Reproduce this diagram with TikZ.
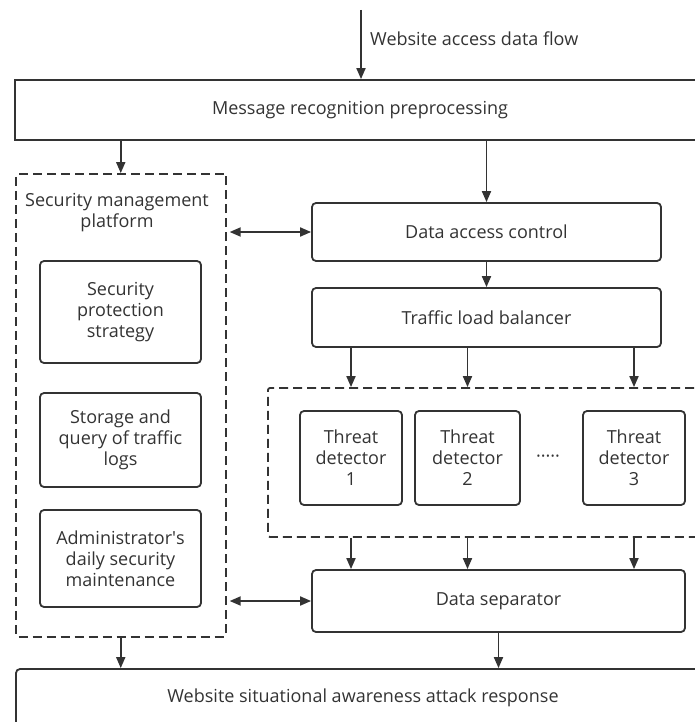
\documentclass[tikz,border=0pt]{standalone}
\usepackage{fontspec}
\setmainfont{Open Sans}
\usepackage{xcolor}
\usepackage{tikz}
\usetikzlibrary{shapes,arrows,positioning,calc,arrows.meta}
\definecolor{ink}{HTML}{333333}

\begin{document}
\begin{tikzpicture}[x=1pt, y=-1pt,
    every node/.style={text=ink, font=\fontsize{18}{21}\selectfont, align=center, inner sep=0pt},
    block/.style={draw=ink, line width=1.8pt, rounded corners=4pt},
    flat/.style={draw=ink, line width=1.8pt},
    group/.style={draw=ink, line width=1.8pt, dash pattern=on 9pt off 5pt, rounded corners=2pt},
    arr/.style={draw=ink, line width=1.8pt, -{Triangle[length=11pt,width=9pt]}},
    dbl/.style={draw=ink, line width=1.8pt, {Triangle[length=11pt,width=9pt]}-{Triangle[length=11pt,width=9pt]}}]
    \useasboundingbox (0,0) rectangle (695,722);

    % top part
    \node[flat, minimum width=690pt, minimum height=60pt] (mrp) at (360,110) {Message recognition preprocessing};
    \coordinate (in) at (361,10);
    \node[anchor=west] (flow) at (370,39) {Website access data flow};

    % security management platform
    \node[group, minimum width=210pt, minimum height=463pt] (smp) at (120.75,405.5) {};
    \node (smptitle) at (117,213) {Security management\\platform};
    \node[block, minimum width=161pt, minimum height=102pt] (spp) at (120.5,312) {Security\\protection\\strategy};
    \node[block, minimum width=161pt, minimum height=94pt] (sqt) at (120.5,440) {Storage and\\query of traffic\\logs};
    \node[block, minimum width=161pt, minimum height=97pt] (adm) at (120.5,558.5) {Administrator\textquotesingle s\\daily security\\maintenance};

    % right column
    \node[block, minimum width=349pt, minimum height=58pt] (dac) at (486.5,232) {Data access control};
    \node[block, minimum width=349pt, minimum height=59pt] (tlb) at (486.5,317.5) {Traffic load balancer};
    \node[group, minimum width=442pt, minimum height=149pt] (tdg) at (489,462.5) {};
    \node[block, minimum width=102pt, minimum height=94pt] (det1) at (351,458) {Threat\\detector\\1};
    \node[block, minimum width=105pt, minimum height=94pt] (det2) at (467.5,458) {Threat\\detector\\2};
    \node (dots) at (548,459) {·····};
    \node[block, minimum width=102pt, minimum height=94pt] (det3) at (634,458) {Threat\\detector\\3};
    \node[block, minimum width=373pt, minimum height=62pt] (ds) at (498.5,601) {Data separator};

    % bottom
    \node[block, minimum width=694pt, minimum height=58pt] (wsa) at (363,698) {Website situational awareness attack response};

    % connectors
    \draw[arr] (in) -- (in |- mrp.north);
    \draw[arr] (mrp.south -| smp.north) -- (smp.north);
    \draw[arr] (mrp.south -| dac.north) -- (dac.north);
    \draw[dbl, shorten <=3pt] (smp.east |- dac.west) -- (dac.west);
    \draw[arr] (dac.south) -- (tlb.north);
    \foreach \d in {det1,det2,det3}
        \draw[arr] (tlb.south -| \d.north) -- (tdg.north -| \d.north);
    \foreach \d in {det1,det2,det3}
        \draw[arr] (tdg.south -| \d.south) -- (ds.north -| \d.south);
    \draw[dbl, shorten <=3pt] (smp.east |- ds.west) -- (ds.west);
    \draw[arr] (smp.south) -- (smp.south |- wsa.north);
    \draw[arr] (ds.south) -- (ds.south |- wsa.north);
\end{tikzpicture}
\end{document}
